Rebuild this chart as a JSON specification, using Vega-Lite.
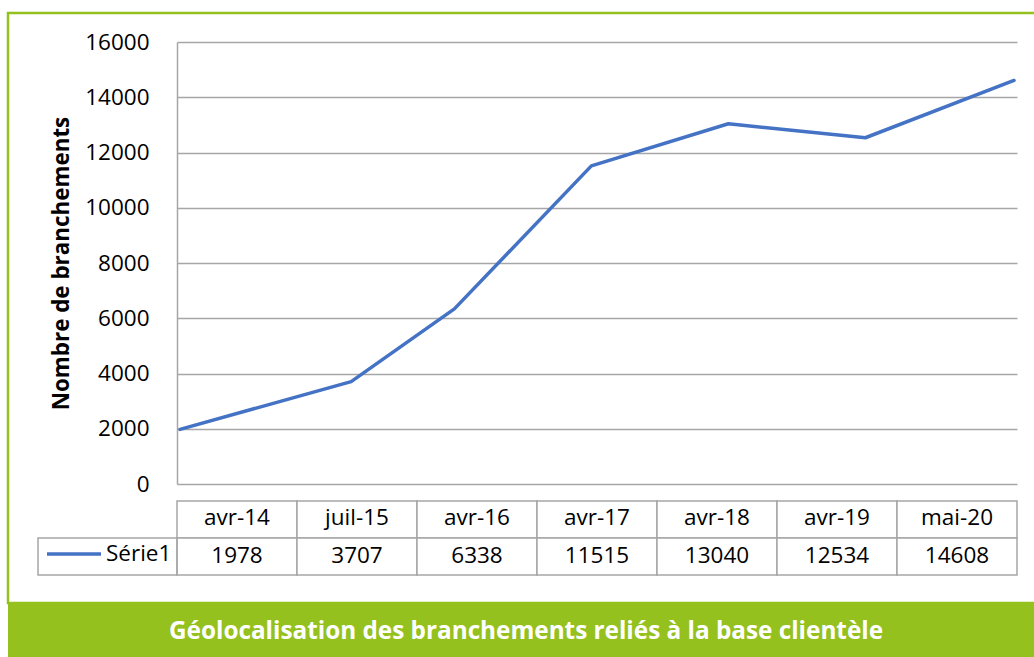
{
  "$schema": "https://vega.github.io/schema/vega-lite/v6.json",
  "padding": {"left": 6, "top": 11, "right": 0, "bottom": 0},
  "background": "white",
  "spacing": 0,
  "bounds": "flush",
  "datasets": {
    "d": [
      {"date": "2014-04-01", "label": "avr-14", "value": 1978, "serie": "Série1"},
      {"date": "2015-07-01", "label": "juil-15", "value": 3707, "serie": "Série1"},
      {"date": "2016-04-01", "label": "avr-16", "value": 6338, "serie": "Série1"},
      {"date": "2017-04-01", "label": "avr-17", "value": 11515, "serie": "Série1"},
      {"date": "2018-04-01", "label": "avr-18", "value": 13040, "serie": "Série1"},
      {"date": "2019-04-01", "label": "avr-19", "value": 12534, "serie": "Série1"},
      {"date": "2020-05-01", "label": "mai-20", "value": 14608, "serie": "Série1"}
    ],
    "hdr": [{"c": "Série1"}],
    "banner": [{"t": "Géolocalisation des branchements reliés à la base clientèle"}]
  },
  "config": {"font": "Open Sans", "text": {"font": "Open Sans"}},
  "vconcat": [
    {
      "width": 1028,
      "height": 590,
      "view": {"fill": "white", "stroke": "#95C11F", "strokeWidth": 2.5, "strokeDash": [1028, 590, 1618, 10]},
      "layer": [
        {
          "data": {"name": "d"},
          "mark": {"type": "line", "strokeWidth": 3.5, "strokeCap": "round", "strokeJoin": "round"},
          "encoding": {
            "x": {
              "field": "date", "type": "temporal",
              "scale": {"domain": [{"year": 2014, "month": 3, "date": 24}, {"year": 2020, "month": 5, "date": 9}], "range": [169, 1009]},
              "axis": null
            },
            "y": {
              "field": "value", "type": "quantitative",
              "scale": {"domain": [0, 16000], "range": [471, 29], "nice": false},
              "axis": {
                "orient": "left", "offset": -169,
                "values": [0, 2000, 4000, 6000, 8000, 10000, 12000, 14000, 16000],
                "format": "d",
                "grid": true, "gridColor": "#A6A6A6", "gridWidth": 1.5,
                "domain": true, "domainColor": "#A6A6A6", "domainWidth": 1.5,
                "ticks": false, "labelPadding": 28,
                "labelFont": "Open Sans", "labelFontSize": 22.5, "labelColor": "black",
                "title": "Nombre de branchements",
                "titleFont": "Open Sans", "titleFontSize": 22.4, "titleFontWeight": "bold", "titleColor": "black",
                "titlePadding": 11
              }
            },
            "color": {
              "field": "serie", "type": "nominal",
              "scale": {"range": ["#4472C4"]},
              "legend": {
                "orient": "none", "legendX": 37, "legendY": 512, "title": null,
                "symbolType": "stroke", "symbolSize": 2916, "symbolStrokeWidth": 3.5,
                "labelFont": "Open Sans", "labelFontSize": 22.5, "labelColor": "black", "labelOffset": 3, "padding": 0
              }
            }
          }
        },
        {
          "data": {"name": "d"},
          "encoding": {
            "x": {
              "field": "label", "type": "ordinal", "sort": null,
              "scale": {"type": "band", "domain": ["avr-14", "juil-15", "avr-16", "avr-17", "avr-18", "avr-19", "mai-20"], "range": [169, 1009], "paddingInner": 0, "paddingOuter": 0},
              "axis": null
            }
          },
          "layer": [
            {
              "mark": {"type": "rect", "fill": "white", "stroke": "#A6A6A6", "strokeWidth": 1.5},
              "encoding": {"y": {"datum": "hdr", "type": "nominal", "scale": {"type": "band", "domain": ["hdr", "val"], "range": [488, 562], "paddingInner": 0, "paddingOuter": 0}, "axis": null}}
            },
            {
              "mark": {"type": "rect", "fill": "white", "stroke": "#A6A6A6", "strokeWidth": 1.5},
              "encoding": {"y": {"datum": "val", "type": "nominal", "scale": {"type": "band", "domain": ["hdr", "val"], "range": [488, 562], "paddingInner": 0, "paddingOuter": 0}, "axis": null}}
            },
            {
              "mark": {"type": "text", "fontSize": 22.5, "color": "black", "font": "Open Sans", "dy": -2},
              "encoding": {
                "y": {"datum": "hdr", "type": "nominal", "scale": {"type": "band", "domain": ["hdr", "val"], "range": [488, 562], "paddingInner": 0, "paddingOuter": 0}, "axis": null},
                "text": {"field": "label"}
              }
            },
            {
              "mark": {"type": "text", "fontSize": 22.5, "color": "black", "font": "Open Sans", "dy": -1},
              "encoding": {
                "y": {"datum": "val", "type": "nominal", "scale": {"type": "band", "domain": ["hdr", "val"], "range": [488, 562], "paddingInner": 0, "paddingOuter": 0}, "axis": null},
                "text": {"field": "value", "type": "quantitative", "format": "d"}
              }
            }
          ]
        },
        {
          "data": {"name": "hdr"},
          "mark": {"type": "rect", "fill": null, "stroke": "#A6A6A6", "strokeWidth": 1.5},
          "encoding": {
            "x": {"field": "c", "type": "nominal", "scale": {"type": "band", "domain": ["Série1"], "range": [30, 169], "paddingInner": 0, "paddingOuter": 0}, "axis": null},
            "y": {"datum": "val", "type": "nominal", "scale": {"type": "band", "domain": ["hdr", "val"], "range": [488, 562], "paddingInner": 0, "paddingOuter": 0}, "axis": null}
          }
        }
      ],
      "resolve": {"scale": {"x": "independent", "y": "independent", "color": "independent"}}
    },
    {
      "width": 1028,
      "height": 54,
      "view": {"fill": "#95C11F", "stroke": null},
      "data": {"name": "banner"},
      "mark": {"type": "text", "font": "Open Sans", "fontSize": 24.3, "fontWeight": "bold", "color": "white", "dx": 4, "dy": 2},
      "encoding": {"text": {"field": "t"}}
    }
  ]
}
